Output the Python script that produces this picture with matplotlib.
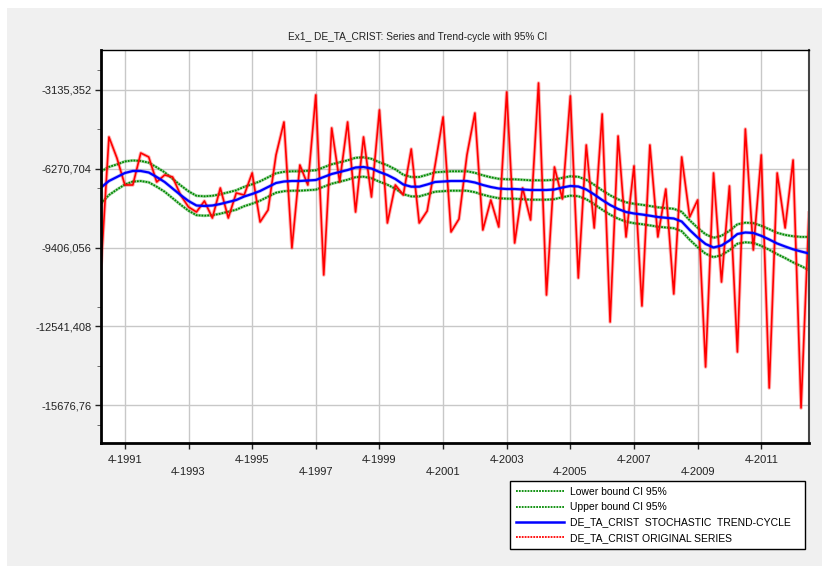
import matplotlib.pyplot as plt
from matplotlib.lines import Line2D
from matplotlib.patches import Rectangle
from matplotlib.ticker import FixedLocator, MultipleLocator

plt.rcParams["font.family"] = ["Liberation Sans", "DejaVu Sans"]

# quarterly periods starting 1-1991
start_year = 1991
n_periods = 90

original = [
    -10218, -5005, -5841, -6915, -6915, -5642, -5801, -6796, -6517, -6597,
    -7313, -7791, -7990, -7552, -8228, -7035, -8228, -7234, -7313, -6438,
    -8387, -7910, -5722, -4409, -9422, -6120, -6915, -3334, -10496, -4647,
    -6796, -4409, -7990, -5005, -7393, -3931, -8427, -6915, -7313, -5483,
    -8427, -7950, -6120, -4210, -8785, -8268, -5722, -4051, -8706, -7512,
    -8586, -3215, -9223, -7035, -8308, -2857, -11292, -6199, -7472, -3374,
    -10616, -5324, -8626, -4090, -12366, -4966, -8984, -6159, -11730, -5324,
    -8984, -7075, -11252, -5801, -8189, -7512, -14157, -6438, -10775, -6955,
    -13560, -4687, -9502, -5722, -14993, -6438, -8626, -5921, -15788, -8029,
]

trend = [
    -7015, -6756, -6597, -6438, -6358, -6358, -6418, -6597, -6796, -7055,
    -7313, -7552, -7731, -7751, -7731, -7671, -7592, -7512, -7373, -7273,
    -7154, -6995, -6836, -6776, -6756, -6756, -6736, -6716, -6597, -6478,
    -6398, -6319, -6219, -6199, -6259, -6398, -6517, -6677, -6895, -6983,
    -6983, -6895, -6796, -6776, -6756, -6756, -6756, -6816, -6915, -6995,
    -7055, -7075, -7075, -7094, -7114, -7114, -7114, -7094, -7015, -6955,
    -6975, -7094, -7293, -7512, -7711, -7870, -7990, -8049, -8089, -8137,
    -8189, -8220, -8248, -8368, -8706, -9004, -9263, -9402, -9323, -9124,
    -8865, -8805, -8825, -8937, -9084, -9243, -9362, -9474, -9561, -9641,
]

# half width of the 95% interval around the trend
ci_half = [
    640, 560, 500, 460, 420, 400, 390, 386, 386, 386,
    386, 386, 386, 386, 386, 386, 386, 386, 386, 386,
    386, 386, 386, 386, 386, 386, 386, 386, 386, 386,
    386, 386, 386, 386, 386, 386, 386, 386, 386, 386,
    386, 386, 386, 386, 386, 386, 386, 386, 386, 386,
    386, 386, 386, 386, 386, 386, 386, 386, 386, 386,
    386, 386, 386, 386, 386, 386, 386, 386, 386, 386,
    386, 386, 386, 386, 386, 386, 386, 386, 386, 386,
    386, 390, 394, 400, 410, 425, 460, 520, 580, 660,
]

y_ticks = [-3135.352, -6270.704, -9406.056, -12541.408, -15676.76]
x_tick_years = [1991, 1993, 1995, 1997, 1999, 2001, 2003, 2005, 2007, 2009, 2011]

t = [start_year + i / 4 for i in range(n_periods)]
lower = [m - h for m, h in zip(trend, ci_half)]
upper = [m + h for m, h in zip(trend, ci_half)]

fig = plt.figure(figsize=(8.22, 5.66), dpi=100, facecolor="white")
fig.patches.append(Rectangle((7 / 822, 0), 1, 1 - 8 / 566, transform=fig.transFigure,
                             facecolor="#f0f0f0", edgecolor="none", zorder=-10))

ax = fig.add_axes([101 / 822, 1 - 442.7 / 566, 708 / 822, (442.7 - 50) / 566])
ax.set_facecolor("white")

green = "#008a00"
ax.plot(t, lower, color=green, lw=2.2, alpha=0.35)
ax.plot(t, lower, color=green, lw=1.3, ls=(0, (1, 0.6)))
ax.plot(t, upper, color=green, lw=2.2, alpha=0.35)
ax.plot(t, upper, color=green, lw=1.3, ls=(0, (1, 0.6)))
ax.plot(t, original, color="red", lw=2.6, alpha=0.3)
ax.plot(t, original, color="red", lw=1.2)
ax.plot(t, trend, color="blue", lw=2.6, alpha=0.25)
ax.plot(t, trend, color="blue", lw=1.6)

ax.set_xlim(t[0], t[-1])
ax.set_ylim(-17169, -1544)

x_ticks = [y + 0.75 for y in x_tick_years]
ax.xaxis.set_major_locator(FixedLocator(x_ticks))
ax.set_xticklabels([("" if k % 2 == 0 else "\n") + "4-%d" % y for k, y in enumerate(x_tick_years)])
ax.yaxis.set_major_locator(FixedLocator(y_ticks))
ax.set_yticklabels([str(v).replace(".", ",") for v in y_ticks])
ax.yaxis.set_minor_locator(MultipleLocator(2351.514))
ax.tick_params(axis="both", labelsize=8, colors="#222222", length=4, width=1)
ax.tick_params(axis="y", which="minor", length=3, color="#555555")
ax.tick_params(axis="x", pad=5)
ax.tick_params(axis="y", pad=3)

ax.grid(True, which="major", color="#c8c8c8", lw=1)
ax.set_axisbelow(True)

ax.spines["left"].set_linewidth(2)
ax.spines["bottom"].set_linewidth(2)
ax.spines["top"].set_linewidth(1)
ax.spines["right"].set_linewidth(1.5)
ax.spines["right"].set_color("#444444")

fig.text(0.508, 1 - 37 / 566, "Ex1_ DE_TA_CRIST: Series and Trend-cycle with 95% CI",
         ha="center", va="center", fontsize=7.3, color="#222222")

handles = [
    Line2D([], [], color=green, lw=1.3, ls=(0, (1, 0.6))),
    Line2D([], [], color=green, lw=1.3, ls=(0, (1, 0.6))),
    Line2D([], [], color="blue", lw=1.8),
    Line2D([], [], color="red", lw=1.3, ls=(0, (1, 0.6))),
]
labels = [
    "Lower bound CI 95%",
    "Upper bound CI 95%",
    "DE_TA_CRIST  STOCHASTIC  TREND-CYCLE",
    "DE_TA_CRIST ORIGINAL SERIES",
]
leg = fig.legend(handles, labels, loc="upper left",
                 bbox_to_anchor=(510 / 822, 1 - 548 / 566, 295 / 822, 67 / 566),
                 mode="expand", fontsize=7.5, frameon=True, fancybox=False, framealpha=1,
                 edgecolor="black", borderpad=0.55, labelspacing=0.52, handlelength=4.6,
                 handletextpad=0.6, borderaxespad=0)
leg.get_frame().set_linewidth(1)

fig.savefig("out.png", dpi=100, facecolor=fig.get_facecolor())
